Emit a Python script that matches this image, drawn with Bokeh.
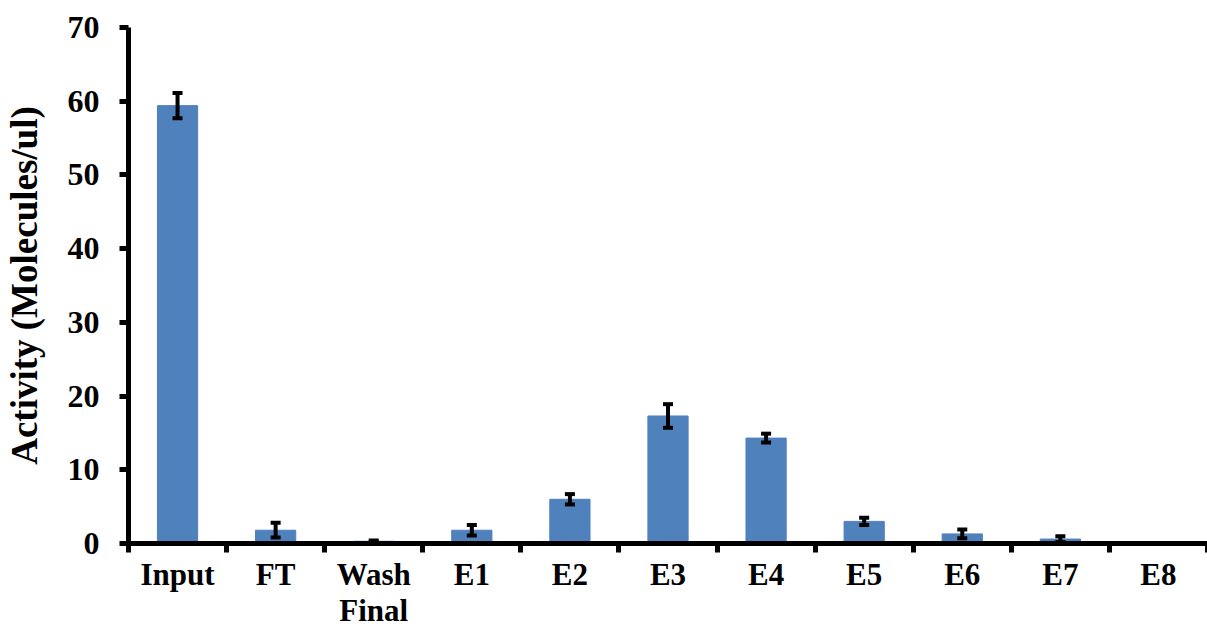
from bokeh.plotting import figure
from bokeh.models import ColumnDataSource, FixedTicker, Range1d, Whisker, TeeHead
from bokeh.embed import file_html
from bokeh.resources import INLINE

categories = ["Input", "FT", "Wash\nFinal", "E1", "E2", "E3", "E4", "E5", "E6", "E7", "E8"]
values = [59.4, 1.8, 0.3, 1.8, 6.0, 17.3, 14.3, 3.0, 1.3, 0.6, 0.0]
errors = [1.7, 1.0, 0.1, 0.7, 0.7, 1.6, 0.6, 0.5, 0.6, 0.4, 0.0]
y_ticks = [0, 10, 20, 30, 40, 50, 60, 70]

n = len(categories)
xs = [i + 0.5 for i in range(n)]
src = ColumnDataSource(dict(
    x=xs, top=values,
    upper=[v + e for v, e in zip(values, errors)],
    lower=[v - e for v, e in zip(values, errors)],
))

p = figure(width=1207, height=632, output_backend="svg", toolbar_location=None,
           x_range=Range1d(0, n), y_range=Range1d(0, 70),
           min_border_left=127, min_border_right=0, min_border_top=27, min_border_bottom=89)
p.outline_line_color = None
p.xgrid.visible = False
p.ygrid.visible = False

p.vbar(x="x", top="top", width=0.41, bottom=0, source=src, fill_color="#4F81BD", line_color="#4F81BD")
w = Whisker(base="x", upper="upper", lower="lower", source=src, line_color="black", line_width=4,
            upper_head=TeeHead(size=10, line_width=4, line_color="black"),
            lower_head=TeeHead(size=10, line_width=4, line_color="black"))
w.level = "overlay"
p.add_layout(w)

font = "Times New Roman"
# x axis
p.xaxis.ticker = FixedTicker(ticks=xs, minor_ticks=list(range(n + 1)))
p.xaxis.major_label_overrides = {x: c for x, c in zip(xs, categories)}
p.xaxis.major_tick_out = 0
p.xaxis.major_tick_in = 0
p.xaxis.minor_tick_out = 9
p.xaxis.minor_tick_in = 0
p.xaxis.minor_tick_line_width = 5
p.xaxis.minor_tick_line_color = "black"
p.xaxis.axis_line_width = 5
p.xaxis.axis_line_color = "black"
p.xaxis.major_label_text_font = font
p.xaxis.major_label_text_font_style = "bold"
p.xaxis.major_label_text_font_size = "31px"
p.xaxis.major_label_text_color = "black"
p.xaxis.major_label_text_line_height = 1.05
p.xaxis.major_label_standoff = 4

# y axis
p.yaxis.ticker = FixedTicker(ticks=y_ticks, minor_ticks=[])
p.yaxis.major_tick_out = 9
p.yaxis.major_tick_in = 0
p.yaxis.major_tick_line_width = 5
p.yaxis.major_tick_line_color = "black"
p.yaxis.axis_line_width = 5
p.yaxis.axis_line_color = "black"
p.yaxis.major_label_text_font = font
p.yaxis.major_label_text_font_style = "bold"
p.yaxis.major_label_text_font_size = "32px"
p.yaxis.major_label_text_color = "black"
p.yaxis.major_label_standoff = 20
p.yaxis.axis_label = "Activity (Molecules/ul)"
p.yaxis.axis_label_text_font = font
p.yaxis.axis_label_text_font_style = "bold"
p.yaxis.axis_label_text_font_size = "37px"
p.yaxis.axis_label_text_color = "black"
p.yaxis.axis_label_standoff = 20

open("out.html", "w").write(file_html(p, INLINE))
